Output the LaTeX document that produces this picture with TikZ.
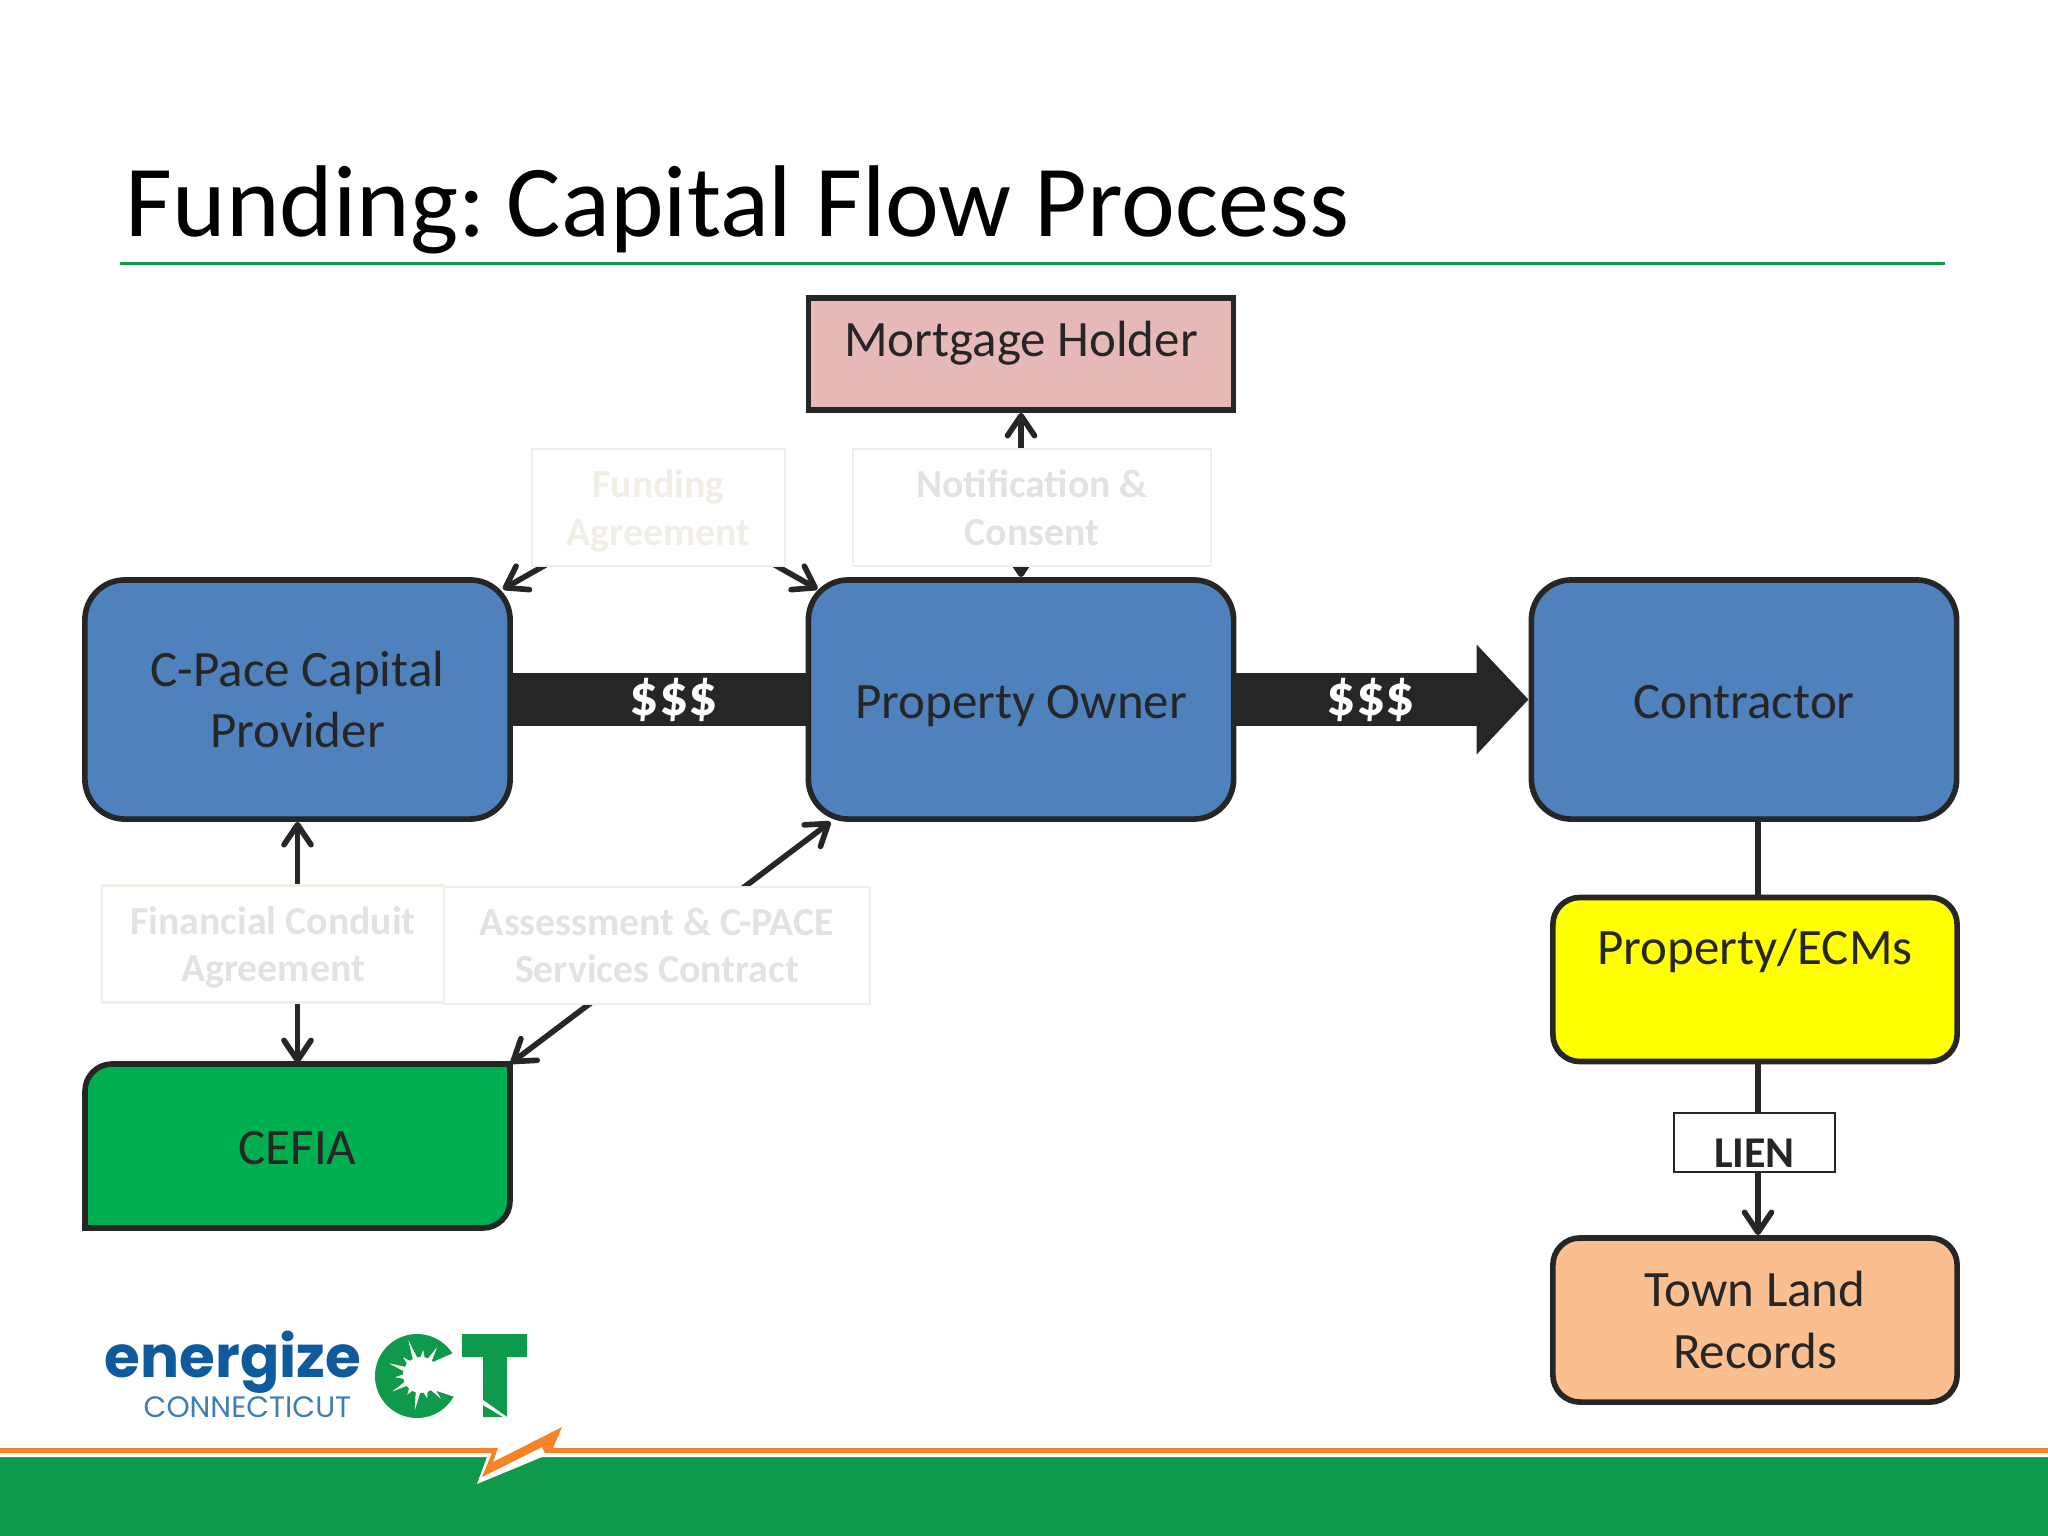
\documentclass[tikz,border=0pt]{standalone}
\usepackage{fontspec}
\setmainfont{Carlito}
\newfontfamily\logofont{Poppins}
\usetikzlibrary{arrows.meta}
\definecolor{inkdark}{HTML}{262626}
\definecolor{slidegreen}{HTML}{0E9A4A}
\definecolor{boltorange}{HTML}{F58426}
\definecolor{boxblue}{HTML}{4F81BD}
\definecolor{boxpink}{HTML}{E6B8B7}
\definecolor{boxgreen}{HTML}{00B050}
\definecolor{boxpeach}{HTML}{FBBF8F}
\definecolor{boxyellow}{HTML}{FFFF00}
\definecolor{fadeline}{HTML}{EFEFE6}
\definecolor{fadetext}{HTML}{E2E2E2}
\definecolor{fadecream}{HTML}{F1EFE5}
\definecolor{logoblue}{HTML}{0F5A9C}
\definecolor{logosoft}{HTML}{3F7DB5}
\begin{document}
\begin{tikzpicture}[x=0.01cm, y=-0.01cm]
      \tikzset{
        every node/.style={text=inkdark, font=\fontsize{14.5}{17.5}\selectfont, align=center},
        party/.style={draw=inkdark, line width=1.6pt, rounded corners=0.4cm, minimum width=4.25cm, minimum height=2.39cm},
        lowparty/.style={party, rounded corners=0.27cm, minimum width=4.04cm, minimum height=1.64cm},
        oneline/.style={text height=0.37cm, text depth=0cm},
        faded/.style={draw=fadeline, line width=0.6pt, fill=white, inner sep=0pt, text=fadetext, text depth=0pt,
          font=\fontsize{11.3}{13.4}\selectfont\bfseries, minimum height=1.17cm},
        link/.style={draw=inkdark, line width=1.6pt, >={Straight Barb[round, length=0.2cm, width=0.27cm]}},
        money/.style={text=white, font=\fontsize{16.5}{18}\selectfont\bfseries},
      }
      \path[use as bounding box] (0,0) rectangle (2048,1536);

      % title and footer
      \node[anchor=base west, inner sep=0pt, text=black, font=\fontsize{29}{34}\selectfont] (title) at (125,236) {Funding:\kern-2.6pt{} Capital Flow Process};
      \draw[slidegreen, line width=0.85pt] (120,263) -- (1945,263);
      \fill[slidegreen] (0,1457) rectangle (2048,1536);
      \fill[white] (0,1453) -- (0,1457) -- (487,1457) -- (477,1484) -- (542,1457) -- (2048,1457) -- (2048,1453) -- cycle;
      \fill[boltorange] (0,1448) -- (498,1448) -- (493,1462) -- (562,1427) -- (553,1448) -- (2048,1448)
        -- (2048,1453) -- (545,1453) -- (542,1447) -- (482,1477) -- (492,1453) -- (0,1453) -- cycle;

      % logo
      \node[anchor=base west, inner sep=0pt, text=logoblue, font=\logofont\bfseries\fontsize{16.5}{18}\selectfont] (energize) at (104,1377) {energize};
      \node[anchor=base west, inner sep=0pt, text=logosoft, font=\logofont\fontsize{8.4}{10}\selectfont] (connecticut) at (143,1417) {CONNECTICUT};
      \fill[slidegreen] (417,1376) circle (42);
      \begin{scope}[shift={(421,1375)}]
        \fill[white] (0,0) circle (18);
        \foreach \a/\r in {0/30,25/26,50/31,75/24,100/36,125/24,150/33,175/26,200/34,225/25,250/37,275/25,300/32,325/25,350/28} {
          \fill[white] (\a-8:17) -- (\a:\r) -- (\a+8:17) -- cycle;
        }
      \end{scope}
      \fill[white] (433,1362) -- (458,1351) -- (462,1351) -- (462,1399) -- (458,1398) -- (434,1390) -- cycle;
      \fill[slidegreen] (462,1334) -- (527,1334) -- (527,1357) -- (507,1357) -- (507,1417) -- (483,1417) -- (483,1357) -- (462,1357) -- cycle;
      \fill[white] (483,1400) -- (483,1405) -- (503,1417) -- (507,1417) -- cycle;

      % CEFIA has only two round corners
      \draw[draw=inkdark, line width=1.6pt, fill=boxgreen, rounded corners=0.27cm] (85,1228) -- (85,1064) [sharp corners] -- (510,1064) [rounded corners=0.27cm] -- (510,1228) [sharp corners] -- cycle;

      \node[party, fill=boxpink, rounded corners=0pt, minimum height=1.12cm, text height=0.2cm, text depth=0.16cm] (holder) at (1021,354) {Mortgage Holder};
      \node[party, fill=boxblue] (provider) at (297.5,699.5) {C-Pace Capital\\Provider};
      \node[party, fill=boxblue, oneline] (owner) at (1021,699.5) {Property Owner};
      \node[party, fill=boxblue, oneline] (contractor) at (1744,699.5) {Contractor};
      \node[lowparty, fill=boxyellow, text height=0.15cm, text depth=0.46cm] (ecms) at (1755,979.5) {Property/ECMs};
      \node[lowparty, fill=boxpeach] (records) at (1755,1320) {Town Land\\Records};
      \node[oneline, minimum width=4.25cm, minimum height=1.64cm] (cefia) at (297.5,1146) {CEFIA};

      % money
      \draw[inkdark, line width=0.53cm] (provider.east) -- (owner.west)
        node[money, pos=0.55] (paid) {\$\$\$};
      \draw[inkdark, line width=0.53cm, -{Triangle[length=0.52cm, width=1.07cm]}] (owner.east) -- (contractor.west)
        node[money, pos=0.46] (spent) {\$\$\$};

      % links, the faded boxes cover them
      \coordinate (fundingtop) at (660,500);
      \draw[link, <->] ([shift={(-10,12)}]provider.north east) -- (fundingtop) -- ([shift={(12,12)}]owner.north west);
      \draw[link, <->] (owner.north) -- (holder.south);
      \draw[link, <->] (provider.south) -- (cefia.north);
      \draw[link, <->] (cefia.north east) -- ([xshift=0.25cm]owner.south west);
      \draw[link] ([xshift=0.03cm]contractor.south -| ecms.north) -- ([xshift=0.03cm]ecms.north);
      \draw[link, ->] ([xshift=0.03cm]ecms.south) -- ([xshift=0.03cm]records.north);

      \node[faded, minimum width=2.53cm, text=fadecream] (funding) at (658.5,507.5) {Funding\\Agreement};
      \node[faded, minimum width=3.58cm] (notice) at (1032,507.5) {Notification \&\\Consent};
      \node[faded, minimum width=3.42cm] (conduit) at (273,944) {Financial Conduit\\Agreement};
      \node[faded, minimum width=4.26cm] (contract) at (657,945.5) {Assessment \& C-PACE\\Services Contract};
      \node[draw=inkdark, line width=0.6pt, fill=white, inner sep=0pt, minimum width=1.61cm, minimum height=0.59cm,
        text height=0.5cm, text depth=0.01cm, font=\fontsize{12.5}{14}\selectfont\bfseries] (lien) at (1754.5,1142.5) {LIEN};
\end{tikzpicture}
\end{document}
